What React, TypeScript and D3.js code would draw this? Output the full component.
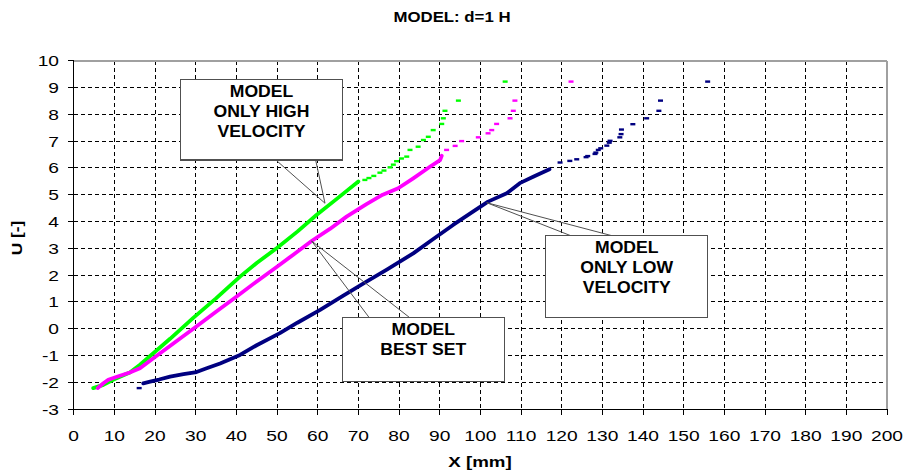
import React from "react";
import * as d3 from "d3";

// ---- data -------------------------------------------------------------
type Pt = [number, number]; // [X mm, U]

const xTicks: number[] = d3.range(0, 201, 10);
const yTicks: number[] = d3.range(-3, 11, 1);

// "Model – only high velocity" (green)
const highVelLine: Pt[] = [
  [4.8, -2.22], [7.3, -2.1], [9.7, -1.91], [13.8, -1.64], [16.3, -1.35],
  [18.8, -1.02], [23.7, -0.38], [29.4, 0.4], [35, 1.13], [40.9, 1.94],
  [45, 2.45], [49.9, 3.0], [55, 3.62], [59.7, 4.24], [65, 4.88], [70, 5.49],
];
const highVelPts: Pt[] = [
  [71.6, 5.55], [72.6, 5.62], [73.8, 5.7], [75.3, 5.82], [76.3, 5.9], [77.8, 6.02],
  [78.6, 6.12], [79.4, 6.25], [80.6, 6.35], [81.9, 6.42], [82.7, 6.67], [84.7, 6.79],
  [86, 7.04], [87.2, 7.16], [88.4, 7.41], [90.5, 7.64], [90.9, 7.85], [91.3, 8.13],
  [94.6, 8.51], [106.1, 9.22],
];

// "Model – best set" (magenta)
const bestSetLine: Pt[] = [
  [5.9, -2.22], [7.3, -2.04], [8.5, -1.91], [11, -1.78], [13.8, -1.64], [16.3, -1.48],
  [20, -1.06], [25, -0.5], [30, 0.06], [35, 0.63], [40, 1.19], [45, 1.76], [50, 2.31],
  [54, 2.76], [58.5, 3.27], [63, 3.72], [67.1, 4.18], [72, 4.65], [76, 5.0],
  [79.8, 5.24], [83.5, 5.61], [87.6, 6.04], [90.1, 6.29], [90.5, 6.45],
];
const bestSetPts: Pt[] = [
  [91.7, 6.67], [93.8, 6.82], [95.4, 7.0], [99.5, 7.14], [101.9, 7.29], [102.8, 7.41],
  [104, 7.64], [107.3, 7.85], [108.1, 8.13], [108.5, 8.51], [122.3, 9.22],
];

// "Model – only low velocity" (navy)
const lowVelLine: Pt[] = [
  [17.1, -2.04], [18.8, -1.98], [21, -1.9], [23.7, -1.79], [27, -1.7], [30.2, -1.62],
  [32.7, -1.48], [36, -1.3], [40.9, -0.98], [45, -0.62], [50.7, -0.17], [55, 0.22],
  [60.6, 0.7], [66, 1.2], [72, 1.75], [77, 2.2], [83.5, 2.81], [88, 3.3], [93.3, 3.87],
  [98, 4.35], [101.9, 4.74], [106.5, 5.05], [109.7, 5.43], [113, 5.67], [117, 5.95],
];
const lowVelPts: Pt[] = [
  [16.1, -2.22], [119.6, 6.2], [122, 6.26], [123.7, 6.32], [126, 6.4], [126.4, 6.44],
  [128.2, 6.52], [128.4, 6.57], [129, 6.67], [129.6, 6.73], [131.1, 6.83], [131.7, 6.94],
  [131.9, 7.01], [134.3, 7.14], [134.6, 7.26], [134.7, 7.43], [137.5, 7.63], [140.9, 7.85],
  [143.9, 8.13], [144.3, 8.51], [155.9, 9.22],
];

// ---- layout -------------------------------------------------------------
const W = 904;
const H = 472;
const left = 73.7;
const right = 887;
const top = 60.7;
const bottom = 409;

const FONT = "'Liberation Sans', Arial, Helvetica, sans-serif";

const x = d3.scaleLinear().domain([0, 200]).range([left, right]);
const y = d3.scaleLinear().domain([-3, 10]).range([bottom, top]);

const lineGen = d3
  .line<Pt>()
  .x((d) => x(d[0]))
  .y((d) => y(d[1]))
  .curve(d3.curveLinear);

const series = [
  { color: "#00ff00", line: highVelLine, pts: highVelPts },
  { color: "#ff00ff", line: bestSetLine, pts: bestSetPts },
  { color: "#000080", line: lowVelLine, pts: lowVelPts },
];

// Callout boxes, expressed in data units
type Callout = {
  lines: string[];
  box: [number, number, number, number]; // x0, U_top, x1, U_bottom
  base: [number, number]; // X positions where the pointer leaves the box
  edge: "top" | "bottom";
  tip: Pt;
};
const callouts: Callout[] = [
  {
    lines: ["MODEL", "ONLY HIGH", "VELOCITY"],
    box: [26.3, 9.31, 66.05, 6.29],
    base: [49.75, 59.5],
    edge: "bottom",
    tip: [61.8, 4.68],
  },
  {
    lines: ["MODEL", "BEST SET"],
    box: [66.05, 0.425, 105.9, -1.98],
    base: [72.6, 82.5],
    edge: "top",
    tip: [58.5, 3.27],
  },
  {
    lines: ["MODEL", "ONLY LOW", "VELOCITY"],
    box: [116.1, 3.47, 155.9, 0.41],
    base: [122.2, 132.3],
    edge: "top",
    tip: [101.55, 4.7],
  },
];

function SText(props: {
  x: number;
  y: number;
  sx?: number;
  anchor?: "start" | "middle" | "end";
  size: number;
  bold?: boolean;
  rotate?: number;
  children: React.ReactNode;
}) {
  const { sx = 1, anchor = "middle", size, bold, rotate = 0 } = props;
  return (
    <text
      transform={`translate(${props.x},${props.y}) rotate(${rotate}) scale(${sx},1)`}
      textAnchor={anchor}
      fontFamily={FONT}
      fontSize={size}
      fontWeight={bold ? "bold" : "normal"}
      fill="#000"
    >
      {props.children}
    </text>
  );
}

export default function App() {
  const dash = "4,3";
  return (
    <svg
      width={W}
      height={H}
      viewBox={`0 0 ${W} ${H}`}
      style={{ position: "absolute", left: 0, top: 0, background: "#fff" }}
    >
      <rect x={0} y={0} width={W} height={H} fill="#fff" />

      {/* grid */}
      <g shapeRendering="crispEdges">
        {xTicks.slice(1, -1).map((t) => (
          <line key={`gx${t}`} x1={x(t)} x2={x(t)} y1={top} y2={bottom} stroke="#000" strokeDasharray={dash} />
        ))}
        {yTicks.slice(1, -1).map((t) => (
          <line key={`gy${t}`} x1={left} x2={right} y1={y(t)} y2={y(t)} stroke="#000" strokeDasharray={dash} />
        ))}
        {/* plot frame (top / right) */}
        <line x1={left} x2={right} y1={top} y2={top} stroke="#a0a0a0" strokeWidth={2} />
        <line x1={right} x2={right} y1={top} y2={bottom} stroke="#a0a0a0" strokeWidth={2} />
      </g>

      {/* series */}
      {series.map((s, i) => (
        <g key={`s${i}`}>
          <path
            d={lineGen(s.line) ?? ""}
            fill="none"
            stroke={s.color}
            strokeWidth={3.8}
            strokeLinecap="round"
            strokeLinejoin="round"
          />
          {s.pts.map((p, j) => (
            <rect key={j} x={x(p[0]) - 2.5} y={y(p[1]) - 1.2} width={5} height={2.4} fill={s.color} />
          ))}
        </g>
      ))}

      {/* axes */}
      <g shapeRendering="crispEdges" stroke="#000">
        <line x1={left} x2={left} y1={top} y2={bottom} />
        <line x1={left} x2={right} y1={bottom} y2={bottom} />
        {yTicks.map((t) => (
          <line key={`ty${t}`} x1={left - 6} x2={left} y1={y(t)} y2={y(t)} />
        ))}
        {xTicks.map((t) => (
          <line key={`tx${t}`} x1={x(t)} x2={x(t)} y1={bottom} y2={bottom + 6} />
        ))}
      </g>
      {yTicks.map((t) => (
        <SText key={`ly${t}`} x={59} y={y(t) + 5.5} anchor="end" size={15} sx={1.28}>
          {t}
        </SText>
      ))}
      {xTicks.map((t) => (
        <SText key={`lx${t}`} x={x(t)} y={441} size={15} sx={1.28}>
          {t}
        </SText>
      ))}

      {/* titles */}
      <SText x={452} y={22} size={14} bold sx={1.2}>
        MODEL: d=1 H
      </SText>
      <SText x={480} y={467} size={15} bold sx={1.25}>
        X [mm]
      </SText>
      <SText x={22} y={238} size={15} bold sx={1.15} rotate={-90}>
        U [-]
      </SText>

      {/* callouts */}
      {callouts.map((c, i) => {
        const bx0 = x(c.box[0]);
        const bx1 = x(c.box[2]);
        const by0 = y(c.box[1]);
        const by1 = y(c.box[3]);
        const ey = c.edge === "top" ? by0 : by1;
        const tx = x(c.tip[0]);
        const ty = y(c.tip[1]);
        const cx = (bx0 + bx1) / 2;
        return (
          <g key={`c${i}`}>
            <line x1={x(c.base[0])} y1={ey} x2={tx} y2={ty} stroke="#505050" strokeWidth={1} />
            <line x1={x(c.base[1])} y1={ey} x2={tx} y2={ty} stroke="#505050" strokeWidth={1} />
            <rect
              x={bx0}
              y={by0}
              width={bx1 - bx0}
              height={by1 - by0}
              fill="#fff"
              stroke="#505050"
              strokeWidth={1.2}
              shapeRendering="crispEdges"
            />
            {c.lines.map((ln, k) => (
              <SText key={k} x={cx} y={by0 + 17.5 + k * 20} size={16} bold sx={1.1}>
                {ln}
              </SText>
            ))}
          </g>
        );
      })}
    </svg>
  );
}
